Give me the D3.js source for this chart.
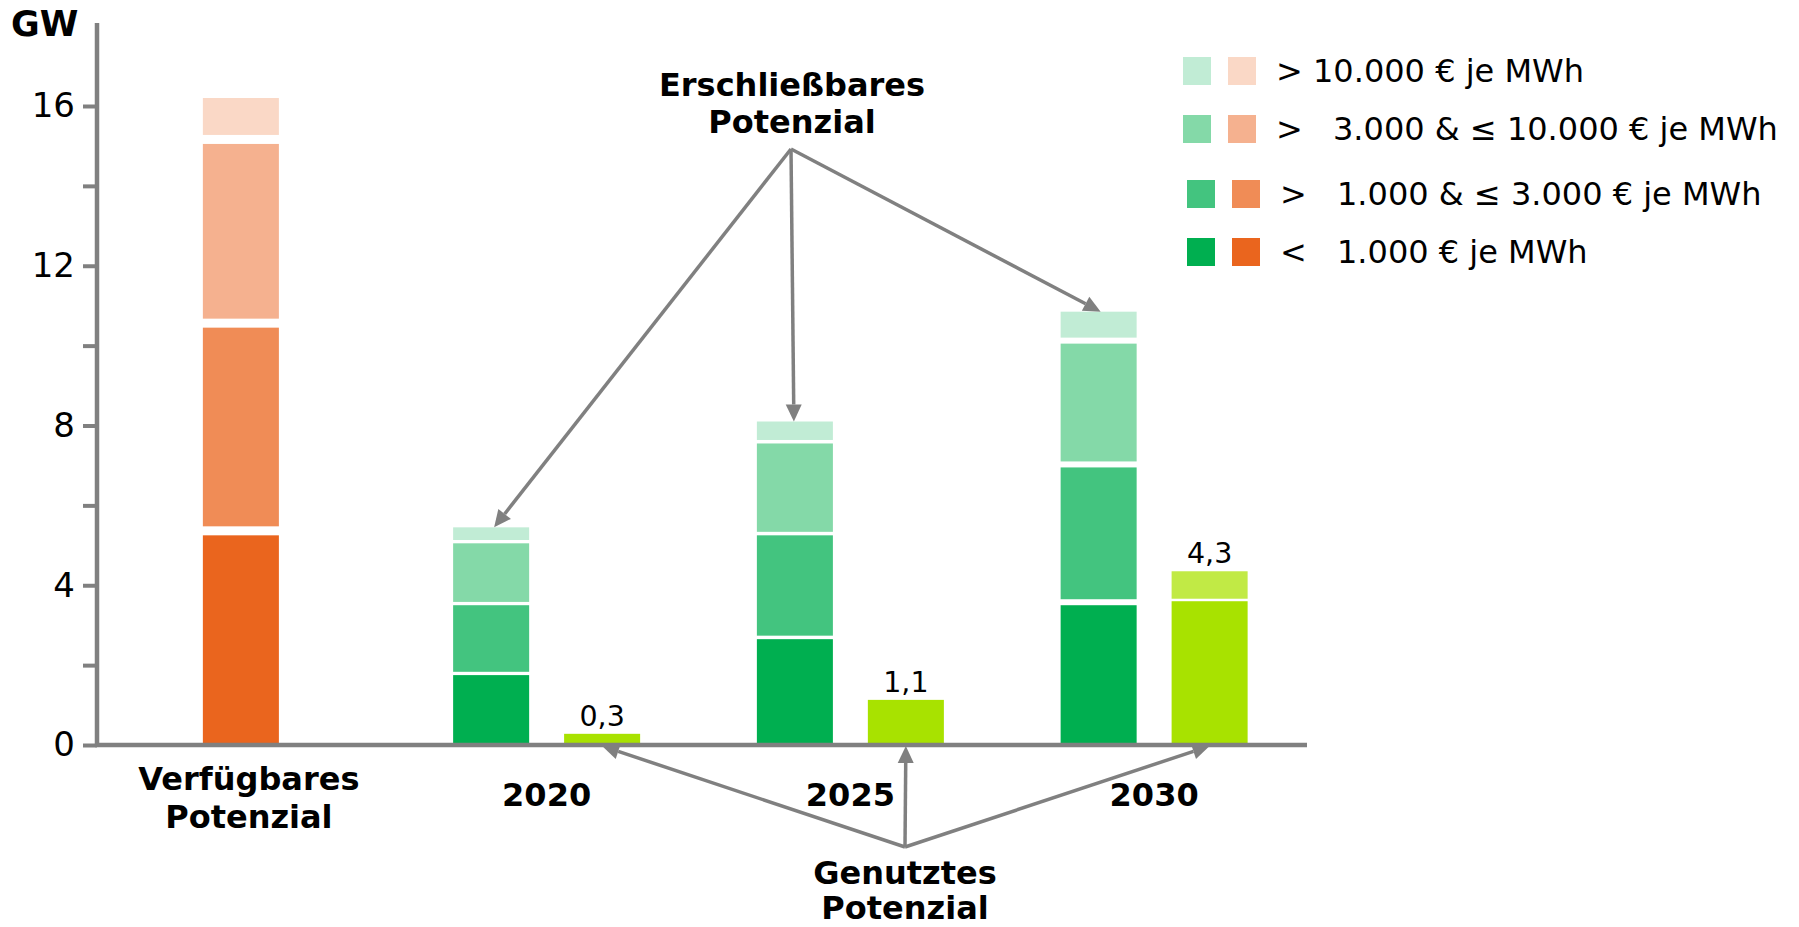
<!DOCTYPE html>
<html>
<head>
<meta charset="utf-8">
<script src="https://cdn.jsdelivr.net/npm/d3@7"></script>
<style>
  body { margin: 0; background: #fff; }
  text { font-family: "DejaVu Sans", Verdana, sans-serif; fill: #000; }
</style>
</head>
<body>
<div id="chart"></div>
<script>
// categories on the x axis
const categories = ['Verfügbares Potenzial', '2020', '2025', '2030'];

// stacked segments from bottom (< 1.000 €) to top (> 10.000 €), GW
const availableSegments = [5.25, 5.2, 4.6, 1.15];
const developable2020 = [1.75, 1.75, 1.55, 0.4];
const developable2025 = [2.65, 2.6, 2.3, 0.55];
const developable2030 = [3.5, 3.45, 3.1, 0.8];

// used potential
const used2020 = [0.28];
const used2025 = [1.13];
const used2030 = [3.6, 0.75];
const usedLabels = ['0,3', '1,1', '4,3'];

// legend
const legendSign = ['>', '>', '>', '<'];
const legendText = ['10.000 € je MWh', '3.000 & ≤ 10.000 € je MWh', '1.000 & ≤ 3.000 € je MWh', '1.000 € je MWh'];

const yTicks = [0, 2, 4, 6, 8, 10, 12, 14, 16];

const greens = ['#00af50', '#43c47f', '#84d9a8', '#c1ecd5'];
const oranges = ['#ea651e', '#f08c56', '#f5b18f', '#fad8c6'];
const limes = ['#a8e200', '#c1ea45'];
const grey = '#808080';

const width = 1799, height = 927;

const svg = d3.select('#chart').append('svg')
  .attr('width', width)
  .attr('height', height);

const y = d3.scaleLinear().domain([0, 16]).range([745, 106]);
const x = d3.scaleBand().domain(categories).range([91, 1306]);
const inner = d3.scaleBand().domain(['pot', 'used']).range([-93.5, 93.5]).paddingInner(0.315);
const barW = inner.bandwidth();

const center = c => x(c) + x.bandwidth() / 2;

// draw a stacked bar with white gaps between the segments
function stack(cx, values, colors, gap) {
  let cum = 0;
  values.forEach((v, i) => {
    const top = y(cum + v);
    const bottom = i === 0 ? y(cum) : y(cum) - gap;
    svg.append('rect')
      .attr('x', cx - barW / 2)
      .attr('y', top)
      .attr('width', barW)
      .attr('height', Math.max(0, bottom - top))
      .attr('fill', colors[i]);
    cum += v;
  });
  return y(cum);
}

const potX = c => center(c) + inner('pot') + barW / 2;
const usedX = c => center(c) + inner('used') + barW / 2;

stack(center(categories[0]) - 2, availableSegments, oranges, 9);
const top20 = stack(potX('2020'), developable2020, greens, 3.3);
const top25 = stack(potX('2025'), developable2025, greens, 3.5);
const top30 = stack(potX('2030'), developable2030, greens, 6);

const usedTops = [
  stack(usedX('2020'), used2020, limes, 2.5),
  stack(usedX('2025'), used2025, limes, 2.5),
  stack(usedX('2030'), used2030, limes, 2.5)
];

['2020', '2025', '2030'].forEach((c, i) => {
  svg.append('text')
    .attr('x', usedX(c))
    .attr('y', usedTops[i] - 8)
    .attr('text-anchor', 'middle')
    .style('font-size', '28.5px')
    .text(usedLabels[i]);
});

// y axis
const yAxis = svg.append('g')
  .attr('transform', 'translate(97,0)')
  .call(d3.axisLeft(y)
    .tickValues(yTicks)
    .tickSize(14)
    .tickPadding(8)
    .tickFormat(d => d % 4 === 0 ? d : ''));
yAxis.select('.domain').remove();
yAxis.selectAll('.tick line').attr('stroke', grey).attr('stroke-width', 4);
yAxis.selectAll('.tick text')
  .style('font-size', '34px')
  .style('font-family', '"DejaVu Sans", Verdana, sans-serif')
  .attr('fill', '#000');

svg.append('line')
  .attr('x1', 97).attr('x2', 97)
  .attr('y1', 23).attr('y2', y(0) + 2)
  .attr('stroke', grey).attr('stroke-width', 4.5);

svg.append('line')
  .attr('x1', 95).attr('x2', 1307)
  .attr('y1', y(0)).attr('y2', y(0))
  .attr('stroke', grey).attr('stroke-width', 4.5);

svg.append('text')
  .attr('x', 11).attr('y', 36)
  .style('font-size', '35px').style('font-weight', 'bold')
  .text('GW');

// x labels
const xLabelLines = [['Verfügbares', 'Potenzial'], ['2020'], ['2025'], ['2030']];
categories.forEach((c, i) => {
  const t = svg.append('text')
    .attr('text-anchor', 'middle')
    .style('font-size', '32px').style('font-weight', 'bold');
  const lines = xLabelLines[i];
  lines.forEach((l, j) => {
    t.append('tspan')
      .attr('x', center(c) + (i === 0 ? 6 : 0))
      .attr('y', (lines.length > 1 ? 790 : 806) + j * 38)
      .text(l);
  });
});

// arrows
function arrow(x1, y1, x2, y2) {
  const ang = Math.atan2(y2 - y1, x2 - x1);
  const head = 17, half = 8;
  const bx = x2 - head * Math.cos(ang), by = y2 - head * Math.sin(ang);
  svg.append('line')
    .attr('x1', x1).attr('y1', y1).attr('x2', bx).attr('y2', by)
    .attr('stroke', grey).attr('stroke-width', 3.5);
  const px = -Math.sin(ang) * half, py = Math.cos(ang) * half;
  svg.append('polygon')
    .attr('points', [[x2, y2], [bx + px, by + py], [bx - px, by - py]].map(p => p.join(',')).join(' '))
    .attr('fill', grey);
}

const topOrigin = [791, 149];
arrow(topOrigin[0], topOrigin[1], potX('2020') + 3, top20);
arrow(topOrigin[0], topOrigin[1], potX('2025') - 1, top25);
arrow(topOrigin[0], topOrigin[1], potX('2030') + 2, top30);

const botOrigin = [905, 847];
['2020', '2025', '2030'].forEach(c => {
  arrow(botOrigin[0], botOrigin[1], usedX(c), y(0) + 1);
});

svg.append('text')
  .attr('text-anchor', 'middle')
  .style('font-size', '32px').style('font-weight', 'bold')
  .selectAll('tspan')
  .data(['Erschließbares', 'Potenzial'])
  .join('tspan')
  .attr('x', 792)
  .attr('y', (d, i) => 96 + i * 37)
  .text(d => d);

svg.append('text')
  .attr('text-anchor', 'middle')
  .style('font-size', '32px').style('font-weight', 'bold')
  .selectAll('tspan')
  .data(['Genutztes', 'Potenzial'])
  .join('tspan')
  .attr('x', 905)
  .attr('y', (d, i) => 884 + i * 35)
  .text(d => d);

// legend, top row is the most expensive tier
const legendRowsY = [71, 129, 194, 252];
const legendShift = [0, 0, 4, 4];
const textX = [1313, 1333, 1337, 1337];
legendText.forEach((txt, i) => {
  const tier = 3 - i;
  const cy = legendRowsY[i];
  const dx = legendShift[i];
  svg.append('rect')
    .attr('x', 1183 + dx).attr('y', cy - 14)
    .attr('width', 28).attr('height', 28)
    .attr('fill', greens[tier]);
  svg.append('rect')
    .attr('x', 1228 + dx).attr('y', cy - 14)
    .attr('width', 28).attr('height', 28)
    .attr('fill', oranges[tier]);
  svg.append('text')
    .attr('x', 1276 + dx).attr('y', cy + 11)
    .style('font-size', '32px')
    .text(legendSign[i]);
  svg.append('text')
    .attr('x', textX[i]).attr('y', cy + 11)
    .style('font-size', '32px')
    .text(txt);
});
</script>
</body>
</html>
